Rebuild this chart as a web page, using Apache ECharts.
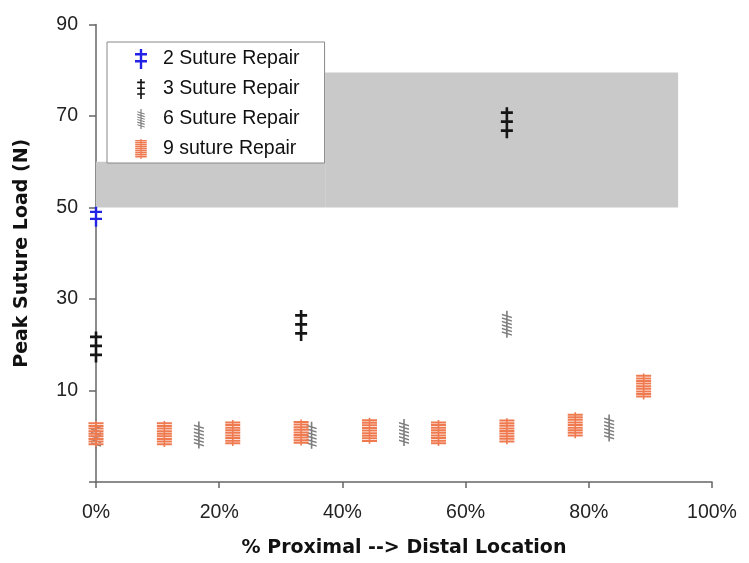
<!DOCTYPE html>
<html>
<head>
<meta charset="utf-8">
<script src="https://cdn.jsdelivr.net/npm/echarts@6/dist/echarts.min.js"></script>
<style>
html,body{margin:0;padding:0;background:#fff;}
#c{width:749px;height:563px;}
</style>
</head>
<body>
<div id="c"></div>
<script>
// ---- data ----
var seriesNames = ['2 Suture Repair', '3 Suture Repair', '6 Suture Repair', '9 suture Repair'];
var twoSuture = [[0, 48]];
var threeSuture = [[0, 19.5], [33.3, 24.2], [66.7, 68.5]];
var sixSuture = [[0, 0.2], [16.7, 0.3], [35, 0.2], [50, 0.8], [66.7, 24.5], [83.3, 1.8]];
var nineSuture = [[0, 0.5], [11.1, 0.5], [22.2, 0.7], [33.3, 0.8], [44.4, 1.2], [55.6, 0.7], [66.7, 1.1], [77.8, 2.4], [88.9, 10.9]];
// shaded ranges: [xStart, yStart, xEnd, yEnd]
var bandA = [0, 50, 37.2, 60];
var bandB = [37.2, 50, 94.5, 79.5];
var xTicks = [0, 20, 40, 60, 80, 100];
var yTicks = [10, 30, 50, 70, 90];

// ---- symbols (absolute coordinates, filled polygons) ----
function rect(x, y, w, h) {
  return 'M' + x + ' ' + y + 'L' + (x + w) + ' ' + y + 'L' + (x + w) + ' ' + (y + h) + 'L' + x + ' ' + (y + h) + 'Z';
}
var sym2 = 'path://' + rect(4.8, 0, 2.4, 20) + rect(0, 4, 12, 2.4) + rect(0, 11, 12, 2.4);
var sym3 = 'path://' + rect(4.7, 0, 2.6, 31) + rect(0, 4, 12, 2.6) + rect(0, 13, 12, 2.6) + rect(0, 22, 12, 2.6);
var sym6 = (function () {
  var p = rect(4.2, 0, 1.6, 27);
  for (var i = 0; i < 6; i++) {
    var y = 3 + i * 3.5;
    p += 'M0 ' + y + 'L10 ' + (y + 3) + 'L10 ' + (y + 4.5) + 'L0 ' + (y + 1.5) + 'Z';
  }
  return 'path://' + p;
})();
var sym9 = (function () {
  var p = rect(6.7, 0, 1.6, 26);
  for (var i = 0; i < 9; i++) p += rect(0, 1.4 + i * 2.6, 15, 2.0);
  return 'path://' + p;
})();

var chart = echarts.init(document.getElementById('c'));
var titleFont = {fontFamily: 'DejaVu Sans', fontWeight: 'bold', fontSize: 19, color: '#111'};

function scatter(name, data, symbol, size, color) {
  return {
    name: name, type: 'scatter', data: data, symbol: symbol, symbolSize: size,
    symbolKeepAspect: false, clip: false,
    itemStyle: {color: color, opacity: 1}
  };
}

chart.setOption({
  animation: false,
  backgroundColor: '#fff',
  grid: {left: 96, right: 37, top: 24.5, bottom: 78},
  legend: {
    orient: 'vertical', left: 107, top: 42,
    itemWidth: 34, itemHeight: 20, itemGap: 10,
    symbolKeepAspect: true,
    padding: [7, 25, 4, 28],
    borderColor: '#888', borderWidth: 1, backgroundColor: '#fff',
    textStyle: {fontFamily: 'Liberation Sans', fontSize: 19.5, color: '#111'},
    data: [
      {name: seriesNames[0], icon: sym2},
      {name: seriesNames[1], icon: sym3},
      {name: seriesNames[2], icon: sym6},
      {name: seriesNames[3], icon: sym9}
    ]
  },
  xAxis: {
    type: 'value', min: xTicks[0], max: xTicks[xTicks.length - 1], interval: 20,
    name: '% Proximal --> Distal Location', nameLocation: 'middle', nameGap: 57,
    nameTextStyle: titleFont,
    axisLine: {show: true, onZero: false, lineStyle: {color: '#666', width: 1.5}},
    axisTick: {show: true, inside: false, length: 6, lineStyle: {color: '#666', width: 1.5}},
    axisLabel: {margin: 21, fontFamily: 'Liberation Sans', fontSize: 19.5, color: '#222',
      formatter: function (v) { return v + '%'; }},
    splitLine: {show: false}
  },
  yAxis: {
    type: 'value', min: -10, max: 90, interval: 20,
    name: 'Peak Suture Load (N)', nameLocation: 'middle', nameGap: 64, nameRotate: 90,
    nameTextStyle: titleFont,
    axisLine: {show: true, onZero: false, lineStyle: {color: '#666', width: 1.5}},
    axisTick: {show: true, inside: false, length: 7, lineStyle: {color: '#666', width: 1.5}},
    axisLabel: {margin: 18, fontFamily: 'Liberation Sans', fontSize: 19.5, color: '#222',
      formatter: function (v) { return yTicks.indexOf(v) >= 0 ? String(v) : ''; }},
    splitLine: {show: false}
  },
  series: [
    {
      name: 'bands', type: 'scatter', data: [], silent: true,
      markArea: {
        silent: true,
        itemStyle: {color: '#c9c9c9', opacity: 1},
        data: [
          [{coord: [bandA[0], bandA[1]]}, {coord: [bandA[2], bandA[3]]}],
          [{coord: [bandB[0], bandB[1]]}, {coord: [bandB[2], bandB[3]]}]
        ]
      }
    },
    scatter(seriesNames[0], twoSuture, sym2, [12, 20], '#2222e6'),
    scatter(seriesNames[1], threeSuture, sym3, [12, 31], '#151515'),
    scatter(seriesNames[2], sixSuture, sym6, [10, 27], '#7d7d7d'),
    scatter(seriesNames[3], nineSuture, sym9, [15, 26], '#ef7a50')
  ]
});
</script>
</body>
</html>
